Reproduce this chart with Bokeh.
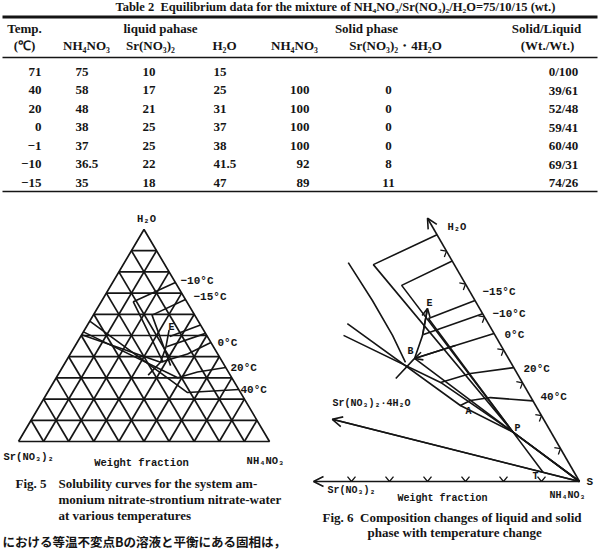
import math
from bokeh.plotting import figure
from bokeh.layouts import column, row
from bokeh.models import Range1d, Arrow, OpenHead
from bokeh.core.properties import value
from bokeh.embed import file_html
from bokeh.resources import INLINE

# ---------------- Table 2 data ----------------
temps = ["71", "40", "20", "0", "−1", "−10", "−15"]
liquid_nh4no3 = [75, 58, 48, 38, 37, 36.5, 35]
liquid_srno3 = [10, 17, 21, 25, 25, 22, 18]
liquid_h2o = [15, 25, 31, 37, 38, 41.5, 47]
solid_nh4no3 = [None, 100, 100, 100, 100, 92, 89]
solid_sr4h2o = [None, 0, 0, 0, 0, 8, 11]
solid_liquid = ["0/100", "39/61", "52/48", "59/41", "60/40", "69/31", "74/26"]

# ---------------- Fig. 5 data (NH4NO3, Sr(NO3)2, H2O  wt%) ----------------
grid_levels = [10, 20, 30, 40, 50, 60, 70, 80, 90]
f5_iso_40 = [(75.5, 0, 24.5), (55.8, 21.1, 23.1), (0, 43.2, 56.8)]
f5_iso_20 = [(65.1, 0, 34.9), (54.9, 12.3, 32.8), (48.4, 21.5, 30.1), (0, 48.3, 51.7)]
f5_iso_0 = [(53.3, 0, 46.7), (46.7, 12, 41.3), (37.9, 24.7, 37.4), (0, 49.6, 50.4)]
f5_iso_m10_salt = [(49, 0, 51), (36.6, 18.7, 44.7)]
f5_iso_m15_salt = [(45, 0, 55), (35.5, 15, 49.5)]
f5_iso_m10_ice = [(25, 0, 75), (12.8, 21.3, 65.9), (39, 23.7, 37.3)]
f5_iso_m15_ice = [(33, 0, 67), (23.4, 17, 59.6), (42.7, 21.5, 35.8)]
f5_curve_BE = [(36, 32.7, 31.3), (37.9, 24.7, 37.4), (36.5, 19.1, 44.4), (33.7, 13.7, 52.6)]
f5_temp_labels = ["−10°C", "−15°C", "0°C", "20°C", "40°C"]

# ---------------- Fig. 6 data ----------------
point_S = (100, 0, 0)
point_P = (75, 10, 15)
point_T = (89, 8.2, 2.8)
point_A = (57.1, 19.8, 23.1)
point_B = (37.9, 24.7, 37.4)
point_E = (33.7, 13.7, 52.6)
axis_h2o_end = (20, 0, 80)
axis_sr_end = (30, 70, 0)
axis_sr4h2o_end = (25.5, 55.6, 18.9)
f6_iso_40 = [(75.5, 0, 24.5), (63.8, 10.7, 25.5), (59.0, 16.4, 24.6), (57.1, 19.8, 23.1), (14.9, 37.1, 48.0)]
f6_iso_20 = [(65.4, 0, 34.6), (54.9, 12.3, 32.8), (48.4, 21.5, 30.1), (15.7, 39.9, 44.4)]
f6_iso_0 = [(55, 0, 45), (46.7, 12, 41.3), (37.9, 24.7, 37.4)]
f6_iso_m10 = [(49, 0, 51), (36.6, 18.7, 44.7)]
f6_iso_m15 = [(45, 0, 55), (35.5, 15, 49.5)]
f6_curve_BE = [(36, 32.7, 31.3), (37.9, 24.7, 37.4), (36.5, 19.1, 44.4), (33.7, 13.7, 52.6)]
f6_curve_left = [(5.9, 27.6, 66.5), (18, 27, 55), (28.6, 27, 44.4), (36.1, 27.7, 36.2)]
f6_box_m10 = [(25, 0, 75), (12.8, 21.3, 65.9), (75, 10, 15)]
f6_box_m15 = [(33, 0, 67), (23.4, 17, 59.6), (75, 10, 15)]
f6_tie_40 = [(57.1, 19.8, 23.1), (75, 10, 15), (100, 0, 0)]
f6_tie_20 = [(48.4, 21.5, 30.1), (75, 10, 15), (100, 0, 0)]
f6_tie_0 = [(37.9, 24.7, 37.4), (75, 10, 15), (100, 0, 0)]
f6_tie_m15 = [(35.5, 15, 49.5), (75, 10, 15), (89, 8.2, 2.8)]
f6_base_ticks = [40, 50, 60, 70, 80, 90]
f6_h2o_ticks = [10, 20, 30, 40, 50, 60, 70]
f6_temp_labels = ["−15°C", "−10°C", "0°C", "20°C", "40°C"]

INK = "#151515"
SERIF = value("Liberation Serif")
MONO = value("Liberation Mono")
S3 = math.sqrt(3) / 2
NB = "\u00a0\u00a0"


def tern(c):
    n, s, w = c
    return (n + w / 2) / 100.0, w / 100.0 * S3


def xy(pts):
    xs, ys = [], []
    for c in pts:
        a, b = tern(c)
        xs.append(a)
        ys.append(b)
    return xs, ys


def bare(p):
    p.axis.visible = False
    p.xgrid.visible = False
    p.ygrid.visible = False
    p.outline_line_color = None
    p.background_fill_color = "white"
    p.border_fill_color = "white"
    p.min_border = 0
    return p


def fmt(v):
    return str(int(v)) if float(v).is_integer() else str(v)


# ================= Table =================
TH = 196
pt = bare(figure(width=599, height=TH, x_range=Range1d(0, 599), y_range=Range1d(TH, 0),
                 output_backend="svg", toolbar_location=None, min_border=0))

pt.text(x=[335], y=[13.5], text=["Table 2" + NB + "Equilibrium data for the mixture of NH₄NO₃/Sr(NO₃)₂/H₂O=75/10/15 (wt.)"],
        text_font=SERIF, text_font_size="12.5px", text_font_style="bold", text_align="center",
        text_baseline="bottom", text_color=INK)
pt.segment(x0=[2], y0=[16.5], x1=[597], y1=[16.5], line_width=3, line_color=INK)
pt.segment(x0=[2, 2], y0=[57, 191], x1=[597, 597], y1=[57, 191], line_width=1.6, line_color=INK)

h1 = ["Temp.", "liquid pahase", "Solid phase", "Solid/Liquid"]
h1x = [24, 160, 366, 546]
pt.text(x=h1x, y=[28] * 4, text=h1, text_font=SERIF, text_font_size="13px", text_font_style="bold",
        text_align="center", text_baseline="middle", text_color=INK)
h2 = ["(℃)", "NH₄NO₃", "Sr(NO₃)₂", "H₂O", "NH₄NO₃", "Sr(NO₃)₂・4H₂O", "(Wt./Wt.)"]
h2x = [24, 86, 150, 224, 294, 395, 547]
pt.text(x=h2x, y=[44.5] * 7, text=h2, text_font=SERIF, text_font_size="13px", text_font_style="bold",
        text_align="center", text_baseline="middle", text_color=INK)

row_y = [71 + 18.5 * i for i in range(len(temps))]
cols = [
    (temps, 41, "right"),
    ([fmt(v) for v in liquid_nh4no3], 75, "left"),
    ([fmt(v) for v in liquid_srno3], 142, "left"),
    ([fmt(v) for v in liquid_h2o], 213, "left"),
    (["" if v is None else fmt(v) for v in solid_nh4no3], 309, "right"),
    (["" if v is None else fmt(v) for v in solid_sr4h2o], 388, "center"),
    (solid_liquid, 563, "center"),
]
for texts, cx, al in cols:
    pt.text(x=[cx] * len(texts), y=row_y, text=texts, text_font=SERIF, text_font_size="13px",
            text_font_style="bold", text_align=al, text_baseline="middle", text_color=INK)

# ================= Fig. 5 =================
W5, H5 = 300, 360
K5x, K5y = 251.0, 212.0 / S3
SX5, SY5 = 18.0, 441.0
p5 = bare(figure(width=W5, height=H5,
                 x_range=Range1d((0 - SX5) / K5x, (W5 - SX5) / K5x),
                 y_range=Range1d((SY5 - TH - H5) / K5y, (SY5 - TH) / K5y),
                 output_backend="svg", toolbar_location=None, min_border=0))


def d5(px, py):
    return (px - SX5) / K5x, (SY5 - py) / K5y


# triangle + grid
gx, gy = [], []
tri = [(0, 100, 0), (100, 0, 0), (0, 0, 100), (0, 100, 0)]
a, b = xy(tri)
gx.append(a); gy.append(b)
for L in grid_levels:
    for seg in ([(0, 100 - L, L), (100 - L, 0, L)],
                [(L, 100 - L, 0), (L, 0, 100 - L)],
                [(0, L, 100 - L), (100 - L, L, 0)]):
        a, b = xy(seg)
        gx.append(a); gy.append(b)
p5.multi_line(gx, gy, line_color=INK, line_width=1.7)

curves5 = [f5_iso_40, f5_iso_20, f5_iso_0, f5_iso_m10_salt, f5_iso_m15_salt,
           f5_iso_m10_ice, f5_iso_m15_ice, f5_curve_BE]
cx5, cy5 = [], []
for c in curves5:
    a, b = xy(c)
    cx5.append(a); cy5.append(b)
p5.multi_line(cx5, cy5, line_color=INK, line_width=1.6)


def put5(items, font, size, style="bold", align="left", base="middle"):
    xs, ys, ts = [], [], []
    for (px, py, t) in items:
        X, Y = d5(px, py)
        xs.append(X); ys.append(Y); ts.append(t)
    p5.text(x=xs, y=ys, text=ts, text_font=font, text_font_size=size, text_font_style=style,
            text_align=align, text_baseline=base, text_color=INK)


put5([(146, 218, "H₂O"), (141, 462, "Weight fraction"), (265, 460, "NH₄NO₃")], MONO, "10.5px", align="center")
put5([(3, 456, "Sr(NO₃)₂")], MONO, "10.5px")
put5(list(zip([180, 193, 217, 230, 240], [280, 296, 342, 367, 389], f5_temp_labels)), MONO, "11px")
put5([(171, 327, "E")], MONO, "10px", align="center")
put5([(15, 483, "Fig. 5"), (58, 483, "Solubility curves for the system am-"),
      (58, 499, "monium nitrate-strontium nitrate-water"), (58, 515, "at various temperatures")],
     SERIF, "13px")
put5([(2, 541, "における等温不変点Bの溶液と平衡にある固相は，")], value("Noto Sans CJK JP"), "12.5px")

# ================= Fig. 6 =================
W6, H6 = 299, 360
K6 = 380.0
SX6, SY6 = 579.0 - K6, 481.0
OX6 = 300
p6 = bare(figure(width=W6, height=H6,
                 x_range=Range1d((OX6 - SX6) / K6, (OX6 + W6 - SX6) / K6),
                 y_range=Range1d((SY6 - TH - H6) / K6, (SY6 - TH) / K6),
                 output_backend="svg", toolbar_location=None, min_border=0))


def d6(px, py):
    return (px - SX6) / K6, (SY6 - py) / K6


curves6 = [f6_iso_40, f6_iso_20, f6_iso_0, f6_iso_m10, f6_iso_m15, f6_curve_BE, f6_curve_left,
           f6_box_m10, f6_box_m15, f6_tie_40, f6_tie_20, f6_tie_0, f6_tie_m15,
           [point_S, axis_sr4h2o_end]]
cx6, cy6 = [], []
for c in curves6:
    a, b = xy(c)
    cx6.append(a); cy6.append(b)
p6.multi_line(cx6, cy6, line_color=INK, line_width=1.6)


def arrow6(c0, c1, size=9):
    x0, y0 = tern(c0)
    x1, y1 = tern(c1)
    p6.add_layout(Arrow(end=OpenHead(size=size, line_width=1.6, line_color=INK),
                        x_start=x0, y_start=y0, x_end=x1, y_end=y1,
                        line_width=1.6, line_color=INK))


arrow6(point_S, axis_h2o_end, 10)
arrow6(point_S, axis_sr_end, 10)
arrow6(point_S, axis_sr4h2o_end, 10)
arrow6(f6_curve_BE[-2], f6_curve_BE[-1], 8)
arrow6(f6_iso_0[-2], f6_iso_0[-1], 8)

# chevron ticks on the two axes
a = 4.0 / K6
chx, chy = [], []
for f in f6_base_ticks:
    X, Y = tern((f, 100 - f, 0))
    chx.append([X - a, X, X + a]); chy.append([Y + a * 1.2, Y, Y + a * 1.2])
nx, ny = S3, 0.5
tx, ty = -0.5, S3
for w in f6_h2o_ticks:
    X, Y = tern((100 - w, 0, w))
    chx.append([X - nx * a * 1.2 + tx * a, X, X - nx * a * 1.2 - tx * a])
    chy.append([Y - ny * a * 1.2 + ty * a, Y, Y - ny * a * 1.2 - ty * a])
p6.multi_line(chx, chy, line_color=INK, line_width=1.3)


def put6(items, font, size, style="bold", align="left", base="middle"):
    xs, ys, ts = [], [], []
    for (px, py, t) in items:
        X, Y = d6(px, py)
        xs.append(X); ys.append(Y); ts.append(t)
    p6.text(x=xs, y=ys, text=ts, text_font=font, text_font_size=size, text_font_style=style,
            text_align=align, text_baseline=base, text_color=INK)


put6([(447, 226, "H₂O")], MONO, "10.5px")
put6(list(zip([482, 492, 504, 523, 540], [291, 313, 334, 368, 396], f6_temp_labels)), MONO, "11px")
put6([(429, 303, "E"), (410, 351, "B"), (468, 411, "A"), (517, 428, "P"), (535, 476, "T")],
     MONO, "10px", align="center")
put6([(586, 481, "S")], MONO, "11px")
put6([(332, 403, "Sr(NO₃)₂·4H₂O"), (327, 490, "Sr(NO₃)₂")], MONO, "10px")
put6([(442, 498, "Weight fraction"), (567, 495, "NH₄NO₃")], MONO, "10px", align="center")
put6([(322, 517, "Fig. 6" + NB + "Composition changes of liquid and solid"),
      (367, 532, "phase with temperature change")], SERIF, "13px")

layout = column(pt, row(p5, p6, spacing=0), spacing=0)
open("out.html", "w").write(file_html(layout, INLINE))
